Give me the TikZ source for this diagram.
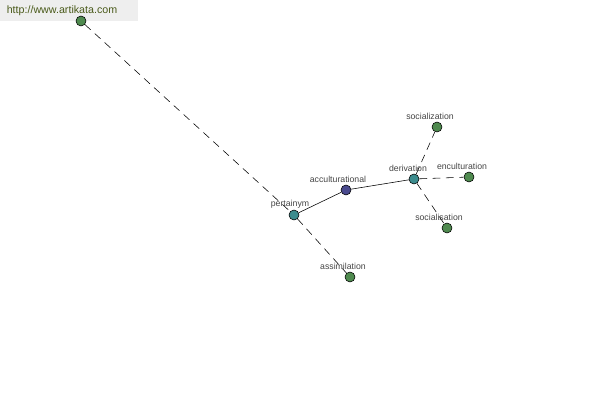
\documentclass[tikz,border=0pt]{standalone}
\usepackage{fontspec}
\setmainfont{Liberation Sans}
\usepackage{xcolor}
\usepackage{tikz}
\usetikzlibrary{positioning}
\definecolor{LeafGreen}{HTML}{4F8A4F}
\definecolor{HubTeal}{HTML}{3C8C8E}
\definecolor{CoreBlue}{HTML}{4A4A8E}
\definecolor{LabelGray}{HTML}{444444}
\definecolor{BannerGray}{HTML}{EEEEEE}
\definecolor{BannerText}{HTML}{4A5A1A}
\tikzset{
  DOT/.style={circle,draw=black,thin,inner sep=0pt,minimum size=0.25cm},
  dG/.style={DOT,fill=LeafGreen},
  dT/.style={DOT,fill=HubTeal},
  dB/.style={DOT,fill=CoreBlue},
  lbl/.style={font=\fontsize{6.2}{7}\selectfont,text=LabelGray,inner sep=0pt},
  solidE/.style={thin,black},
  dashE/.style={thin,black,dash pattern=on 5.5pt off 4pt}
}

\begin{document}
\begin{tikzpicture}[x=0.025cm,y=-0.025cm]
  \useasboundingbox (0,0) rectangle (600,400);
  % banner
  \fill[BannerGray] (0,0) rectangle (138,21);
  \node[font=\fontsize{7.6}{9}\selectfont,text=BannerText,inner sep=0pt] (site) at (62,11) {http://www.artikata.com};

  % nodes
  \node[dG] (top) at (81,21) {};
  \node[dT] (pertainym) at (294,215) {};
  \node[dB] (accult) at (346,190) {};
  \node[dT] (deriv) at (414,179) {};
  \node[dG] (socz) at (437,127) {};
  \node[dG] (encult) at (469,177) {};
  \node[dG] (socs) at (447,228) {};
  \node[dG] (assim) at (350,277) {};

  % edges
  \draw[dashE] (top) -- (pertainym);
  \draw[dashE] (pertainym) -- (assim);
  \draw[solidE] (pertainym) -- (accult);
  \draw[solidE] (accult) -- (deriv);
  \draw[dashE] (deriv) -- (socz);
  \draw[dashE] (deriv) -- (encult);
  \draw[dashE] (deriv) -- (socs);

  % labels
  \node[lbl] (lpert) at (290,204) {pertainym};
  \node[lbl] (lacc) at (338,179) {acculturational};
  \node[lbl] (lder) at (408,168) {derivation};
  \node[lbl] (lsocz) at (430,116) {socialization};
  \node[lbl] (lenc) at (462,166) {enculturation};
  \node[lbl] (lsocs) at (439,217) {socialisation};
  \node[lbl] (lass) at (343,266) {assimilation};
\end{tikzpicture}
\end{document}
